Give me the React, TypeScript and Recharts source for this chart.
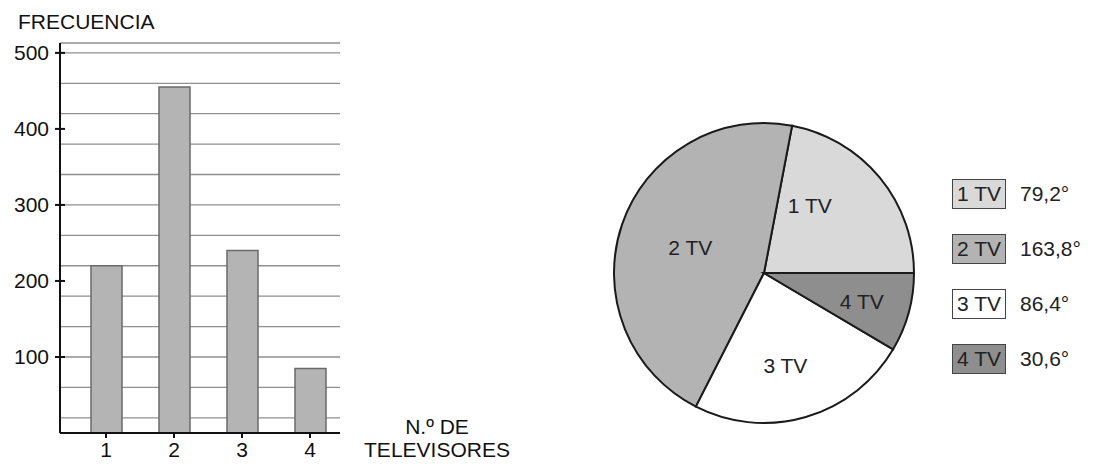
import React from "react";
import {
  Bar,
  BarChart,
  CartesianGrid,
  Cell,
  Legend,
  Pie,
  PieChart,
  XAxis,
  YAxis,
} from "recharts";

// number of TVs per household
const categories = ["1", "2", "3", "4"];
const frequencies = [220, 455, 240, 85];
const sliceNames = ["1 TV", "2 TV", "3 TV", "4 TV"];

const yTicks = [100, 200, 300, 400, 500];
const gridTicks = [
  20, 40, 60, 80, 100, 120, 140, 160, 180, 200, 220, 240, 260, 280, 300, 320,
  340, 360, 380, 400, 420, 440, 460, 480, 500,
];

const sliceFills = ["#d9d9d9", "#b3b3b3", "#ffffff", "#8e8e8e"];
// label placement inside each slice: [angle in degrees, radius]
const labelPlace: [number, number][] = [
  [56, 82],
  [161, 78],
  [283, 95],
  [343.5, 102],
];

const FONT = "'Liberation Sans', Arial, sans-serif";
const AXIS_X = 60;

const barData = categories.map((c, i) => ({ tv: c, freq: frequencies[i] }));
const total = frequencies.reduce((a, b) => a + b, 0);
const pieData = sliceNames.map((n, i) => ({ name: n, value: frequencies[i] }));
const degrees = frequencies.map(
  (f) => (Math.round((f / total) * 3600) / 10).toFixed(1).replace(".", ",") + "°"
);

function YTick(props: any) {
  const { y, payload } = props;
  return (
    <g>
      <line
        x1={AXIS_X - 5}
        x2={AXIS_X + 5}
        y1={y}
        y2={y}
        stroke="#111"
        strokeWidth={2}
      />
      <text
        x={AXIS_X - 11}
        y={y}
        textAnchor="end"
        dominantBaseline="central"
        fontSize={21}
        fill="#111"
      >
        {payload.value}
      </text>
    </g>
  );
}

function XTick(props: any) {
  const { x, payload } = props;
  return (
    <text
      x={x}
      y={449}
      textAnchor="middle"
      dominantBaseline="central"
      fontSize={21}
      fill="#111"
    >
      {payload.value}
    </text>
  );
}

function PieLabel(props: any) {
  const { cx, cy, index } = props;
  const [ang, r] = labelPlace[index];
  const rad = (ang * Math.PI) / 180;
  return (
    <text
      x={cx + r * Math.cos(rad)}
      y={cy - r * Math.sin(rad)}
      textAnchor="middle"
      dominantBaseline="central"
      fontSize={21}
      fill="#222"
    >
      {sliceNames[index]}
    </text>
  );
}

function PieLegend() {
  return (
    <div style={{ fontFamily: FONT }}>
      {sliceNames.map((n, i) => (
        <div
          key={n}
          style={{ display: "flex", alignItems: "center", height: 55 }}
        >
          <div
            style={{
              width: 52,
              height: 28,
              background: sliceFills[i],
              border: "1px solid #444",
              fontSize: 21,
              lineHeight: "28px",
              textAlign: "center",
              color: "#222",
            }}
          >
            {n}
          </div>
          <div style={{ marginLeft: 14, fontSize: 21, color: "#222" }}>
            {degrees[i]}
          </div>
        </div>
      ))}
    </div>
  );
}

export default function App() {
  return (
    <div
      style={{
        position: "absolute",
        left: 0,
        top: 0,
        width: 1096,
        height: 464,
        background: "#fff",
        fontFamily: FONT,
      }}
    >
      <div style={{ position: "absolute", left: 0, top: 0 }}>
        <BarChart
          width={560}
          height={464}
          data={barData}
          margin={{ top: 43, right: 220, bottom: 0, left: 0 }}
          barSize={31}
        >
          <CartesianGrid
            yAxisId="grid"
            vertical={false}
            stroke="#8f8f8f"
            strokeWidth={1.3}
          />
          <XAxis
            dataKey="tv"
            height={31}
            padding={{ left: 12, right: -4 }}
            axisLine={{ stroke: "#111", strokeWidth: 2 }}
            tickLine={{ stroke: "#111", strokeWidth: 2 }}
            tickSize={5}
            tickMargin={0}
            tick={<XTick />}
            label={{
              content: () => (
                <text fontSize={21} fill="#111" textAnchor="middle">
                  <tspan x={437} y={434}>
                    N.º DE
                  </tspan>
                  <tspan x={437} y={457}>
                    TELEVISORES
                  </tspan>
                </text>
              ),
            }}
          />
          <YAxis
            width={AXIS_X}
            domain={[0, 513]}
            ticks={yTicks}
            allowDataOverflow
            axisLine={{ stroke: "#111", strokeWidth: 2 }}
            tickLine={false}
            tick={<YTick />}
            label={{
              content: () => (
                <text x={18} y={29} fontSize={21} fill="#111">
                  FRECUENCIA
                </text>
              ),
            }}
          />
          <YAxis
            yAxisId="grid"
            hide
            domain={[0, 513]}
            ticks={gridTicks}
            allowDataOverflow
          />
          <Bar
            dataKey="freq"
            fill="#b4b4b4"
            stroke="#6a6a6a"
            strokeWidth={1.5}
            isAnimationActive={false}
          />
        </BarChart>
      </div>
      <div style={{ position: "absolute", left: 560, top: 0 }}>
        <PieChart
          width={536}
          height={464}
          margin={{ top: 0, right: 0, bottom: 0, left: 0 }}
        >
          <Pie
            data={pieData}
            dataKey="value"
            nameKey="name"
            cx={204}
            cy={273}
            outerRadius={150}
            startAngle={0}
            endAngle={360}
            stroke="#1a1a1a"
            strokeWidth={2}
            label={<PieLabel />}
            labelLine={false}
            isAnimationActive={false}
          >
            {pieData.map((d, i) => (
              <Cell key={d.name} fill={sliceFills[i]} />
            ))}
          </Pie>
          <Legend
            layout="vertical"
            verticalAlign="top"
            align="right"
            content={<PieLegend />}
            wrapperStyle={{ left: 392, top: 166, width: 140 }}
          />
        </PieChart>
      </div>
    </div>
  );
}
